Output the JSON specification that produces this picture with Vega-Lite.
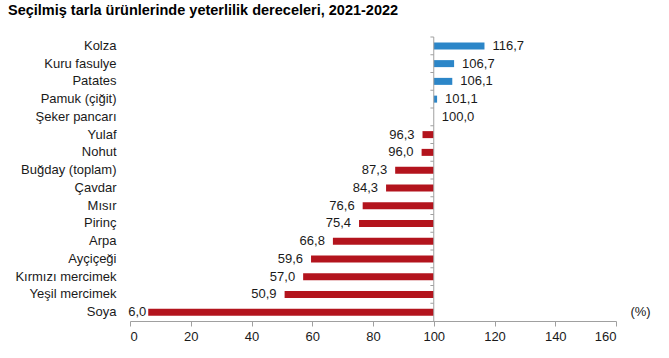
{
  "$schema": "https://vega.github.io/schema/vega-lite/v6.json",
  "width": 486,
  "height": 284,
  "autosize": {"type": "none"},
  "padding": {"left": 130, "top": 37, "right": 53, "bottom": 37},
  "background": "white",
  "title": {
    "text": "Seçilmiş tarla ürünlerinde yeterlilik dereceleri, 2021-2022",
    "anchor": "start",
    "frame": "group",
    "dx": -122,
    "offset": 18,
    "font": "Liberation Sans",
    "fontSize": 14.5,
    "fontWeight": "bold",
    "color": "#000000"
  },
  "config": {
    "view": {"stroke": null},
    "locale": {"number": {"decimal": ",", "thousands": ".", "grouping": [3], "currency": ["", ""]}}
  },
  "data": {
    "values": [
      {"urun": "Kolza", "deger": 116.7},
      {"urun": "Kuru fasulye", "deger": 106.7},
      {"urun": "Patates", "deger": 106.1},
      {"urun": "Pamuk (çiğit)", "deger": 101.1},
      {"urun": "Şeker pancarı", "deger": 100.0},
      {"urun": "Yulaf", "deger": 96.3},
      {"urun": "Nohut", "deger": 96.0},
      {"urun": "Buğday (toplam)", "deger": 87.3},
      {"urun": "Çavdar", "deger": 84.3},
      {"urun": "Mısır", "deger": 76.6},
      {"urun": "Pirinç", "deger": 75.4},
      {"urun": "Arpa", "deger": 66.8},
      {"urun": "Ayçiçeği", "deger": 59.6},
      {"urun": "Kırmızı mercimek", "deger": 57.0},
      {"urun": "Yeşil mercimek", "deger": 50.9},
      {"urun": "Soya", "deger": 6.0}
    ]
  },
  "layer": [
    {
      "mark": {"type": "bar", "height": 7},
      "encoding": {
        "y": {
          "field": "urun",
          "type": "nominal",
          "sort": null,
          "scale": {"paddingInner": 0, "paddingOuter": 0},
          "axis": {
            "title": null,
            "domain": false,
            "ticks": false,
            "labelFont": "Liberation Sans",
            "labelFontSize": 13,
            "labelColor": "#1a1a1a",
            "labelPadding": 14
          }
        },
        "x": {
          "field": "deger",
          "type": "quantitative",
          "scale": {"domain": [0, 160], "nice": false},
          "axis": {
            "values": [0, 20, 40, 60, 80, 100, 120, 140, 160],
            "grid": false,
            "domainColor": "#a0a0a0",
            "tickColor": "#a0a0a0",
            "tickSize": 5,
            "labelFont": "Liberation Sans",
            "labelFontSize": 13,
            "labelColor": "#1a1a1a",
            "labelPadding": 4,
            "title": "(%)",
            "titleFont": "Liberation Sans",
            "titleFontSize": 13,
            "titleFontWeight": "normal",
            "titleColor": "#1a1a1a",
            "titleX": 510,
            "titleY": -3,
            "titleAlign": "center",
            "titleBaseline": "bottom"
          }
        },
        "x2": {"datum": 100},
        "color": {
          "condition": {"test": "datum.deger >= 100", "value": "#2C86C8"},
          "value": "#B3141D"
        }
      }
    },
    {
      "mark": {"type": "text", "align": "left", "dx": 8, "font": "Liberation Sans", "fontSize": 13, "color": "#1a1a1a"},
      "transform": [{"filter": "datum.deger >= 100"}],
      "encoding": {
        "y": {"field": "urun", "type": "nominal", "sort": null},
        "x": {"field": "deger", "type": "quantitative"},
        "text": {"field": "deger", "type": "quantitative", "format": ".1f"}
      }
    },
    {
      "mark": {"type": "text", "align": "right", "dx": -8, "font": "Liberation Sans", "fontSize": 13, "color": "#1a1a1a"},
      "transform": [{"filter": "datum.deger < 100 && datum.deger >= 10"}],
      "encoding": {
        "y": {"field": "urun", "type": "nominal", "sort": null},
        "x": {"field": "deger", "type": "quantitative"},
        "text": {"field": "deger", "type": "quantitative", "format": ".1f"}
      }
    },
    {
      "mark": {"type": "text", "align": "right", "dx": -2, "font": "Liberation Sans", "fontSize": 13, "color": "#1a1a1a"},
      "transform": [{"filter": "datum.deger < 10"}],
      "encoding": {
        "y": {"field": "urun", "type": "nominal", "sort": null},
        "x": {"field": "deger", "type": "quantitative"},
        "text": {"field": "deger", "type": "quantitative", "format": ".1f"}
      }
    },
    {
      "mark": {"type": "rule", "color": "#a0a0a0", "strokeWidth": 1},
      "encoding": {
        "x": {"datum": 100},
        "y": {"field": "urun", "type": "nominal", "sort": null, "bandPosition": 0},
        "x2": {"datum": 98.9}
      }
    },
    {
      "mark": {"type": "rule", "color": "#a0a0a0", "strokeWidth": 1},
      "data": {"values": [{}]},
      "encoding": {"x": {"datum": 100}}
    }
  ]
}
